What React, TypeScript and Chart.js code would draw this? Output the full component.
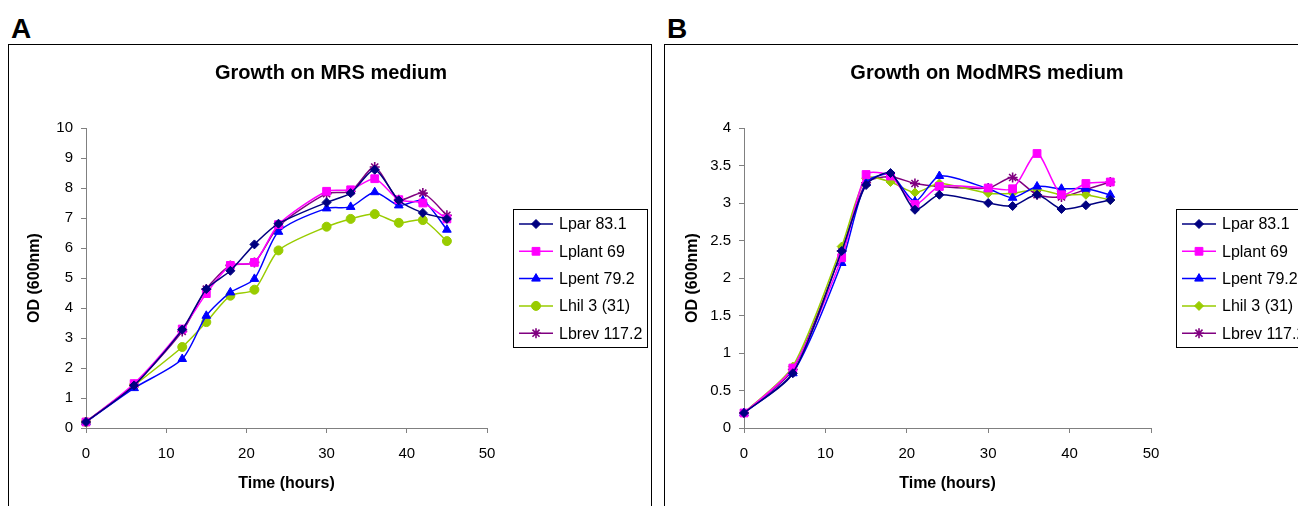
import React, { useEffect, useRef } from 'react';
import { Chart, registerables } from 'chart.js';
import { drawPoint } from 'chart.js/helpers';

Chart.register(...registerables);

const FONT = "'Liberation Sans', Arial, Helvetica, sans-serif";

// ---- data ----
const TIME_HOURS = [0, 6, 12, 15, 18, 21, 24, 30, 33, 36, 39, 42, 45];
const SERIES_LABELS = ['Lpar 83.1', 'Lplant 69', 'Lpent 79.2', 'Lhil 3 (31)', 'Lbrev 117.2'];
const SERIES_COLORS = ['#000080', '#FF00FF', '#0000FF', '#99CC00', '#800080'];

const MRS_LPAR = [0.2, 1.42, 3.28, 4.63, 5.24, 6.12, 6.81, 7.52, 7.83, 8.61, 7.59, 7.17, 6.97];
const MRS_LPLANT = [0.2, 1.48, 3.3, 4.48, 5.42, 5.52, 6.78, 7.89, 7.94, 8.31, 7.61, 7.5, 6.97];
const MRS_LPENT = [0.2, 1.33, 2.3, 3.74, 4.52, 4.97, 6.54, 7.32, 7.37, 7.86, 7.42, 7.58, 6.61];
const MRS_LHIL = [0.2, 1.42, 2.7, 3.53, 4.41, 4.61, 5.92, 6.71, 6.97, 7.13, 6.84, 6.93, 6.23];
const MRS_LBREV = [0.2, 1.44, 3.22, 4.63, 5.42, 5.52, 6.72, 7.81, 7.89, 8.7, 7.61, 7.83, 7.09];

const MOD_LPAR = [0.2, 0.73, 2.36, 3.24, 3.4, 2.91, 3.11, 3.0, 2.96, 3.11, 2.92, 2.97, 3.04];
const MOD_LPLANT = [0.2, 0.8, 2.27, 3.38, 3.36, 2.98, 3.22, 3.2, 3.19, 3.66, 3.11, 3.26, 3.28];
const MOD_LPENT = [0.2, 0.73, 2.2, 3.27, 3.38, 3.02, 3.36, 3.19, 3.07, 3.22, 3.19, 3.19, 3.11];
const MOD_LHIL = [0.2, 0.82, 2.42, 3.33, 3.28, 3.14, 3.26, 3.13, 3.13, 3.18, 3.11, 3.11, 3.04];
const MOD_LBREV = [0.2, 0.78, 2.36, 3.27, 3.35, 3.26, 3.22, 3.2, 3.34, 3.11, 3.08, 3.18, 3.28];

const MRS_MARKERS = ['rectRot', 'rect', 'triangle', 'circle', 'star'];
const MOD_MARKERS = ['rectRot', 'rect', 'triangle', 'rectRot', 'star'];
const MARKER_RADII: Record<string, number> = { rectRot: 4.5, rect: 5.5, triangle: 5, circle: 4.5, star: 5 };

const X_MIN = 0, X_MAX = 50, X_STEP = 10;
const MRS_Y_MAX = 10, MRS_Y_STEP = 1;
const MOD_Y_MAX = 4, MOD_Y_STEP = 0.5;

const TITLE_MRS = 'Growth on MRS medium';
const TITLE_MOD = 'Growth on ModMRS medium';
const X_TITLE = 'Time (hours)';
const Y_TITLE = 'OD (600nm)';

// ---- plugins ----
const panelTitle = {
  id: 'panelTitle',
  afterDraw(chart: any, _a: any, opts: any) {
    const ctx = chart.ctx;
    ctx.save();
    ctx.font = `bold 20px ${FONT}`;
    ctx.fillStyle = '#000';
    ctx.textAlign = 'center';
    ctx.textBaseline = 'middle';
    ctx.fillText(opts.text, opts.x, opts.y);
    ctx.restore();
  },
};

const boxLegend = {
  id: 'boxLegend',
  afterDraw(chart: any, _a: any, opts: any) {
    const ctx = chart.ctx;
    const { x, y, w, h } = opts;
    ctx.save();
    ctx.fillStyle = '#fff';
    ctx.fillRect(x, y, w, h);
    ctx.strokeStyle = '#000';
    ctx.lineWidth = 1;
    ctx.strokeRect(x + 0.5, y + 0.5, w, h);
    chart.data.datasets.forEach((ds: any, i: number) => {
      const cy = y + 15 + i * 27.3;
      ctx.strokeStyle = ds.borderColor;
      ctx.lineWidth = ds.borderWidth;
      ctx.beginPath();
      ctx.moveTo(x + 6, cy);
      ctx.lineTo(x + 40, cy);
      ctx.stroke();
      ctx.fillStyle = ds.pointBackgroundColor;
      ctx.strokeStyle = ds.pointBorderColor;
      ctx.lineWidth = ds.pointBorderWidth;
      drawPoint(ctx, { pointStyle: ds.pointStyle, radius: ds.pointRadius, borderWidth: ds.pointBorderWidth, rotation: 0 } as any, x + 23, cy);
      ctx.fillStyle = '#000';
      ctx.font = `16px ${FONT}`;
      ctx.textAlign = 'left';
      ctx.textBaseline = 'middle';
      ctx.fillText(ds.label, x + 46, cy + 1);
    });
    ctx.restore();
  },
};

type PanelProps = {
  letter: string;
  left: number;
  title: string;
  series: number[][];
  markers: string[];
  yMax: number;
  yStep: number;
  padLeft: number;
  padRight: number;
  legendX: number;
};

const CANVAS_W = 642;
const CANVAS_H = 461;

function Panel(p: PanelProps) {
  const ref = useRef<HTMLCanvasElement | null>(null);
  useEffect(() => {
    if (!ref.current) return;
    const datasets = p.series.map((vals, i) => ({
      label: SERIES_LABELS[i],
      data: vals.map((v, k) => ({ x: TIME_HOURS[k], y: v })),
      borderColor: SERIES_COLORS[i],
      backgroundColor: SERIES_COLORS[i],
      pointBackgroundColor: SERIES_COLORS[i],
      pointBorderColor: SERIES_COLORS[i],
      borderWidth: 1.5,
      pointStyle: p.markers[i],
      pointRadius: MARKER_RADII[p.markers[i]],
      pointBorderWidth: p.markers[i] === 'star' ? 1.6 : 1,
      tension: 0.25,
      clip: false as any,
    }));
    const tickFont = { family: FONT, size: 15 };
    const titleFont = { family: FONT, size: 16, weight: 'bold' as const };
    const chart = new Chart(ref.current, {
      type: 'line',
      data: { datasets },
      plugins: [panelTitle, boxLegend],
      options: {
        animation: false,
        responsive: false,
        devicePixelRatio: 1,
        layout: { padding: { left: p.padLeft, right: p.padRight, top: 83, bottom: 13 } },
        plugins: {
          legend: { display: false },
          tooltip: { enabled: false },
          panelTitle: { text: p.title, x: 322, y: 28.5 },
          boxLegend: { x: p.legendX, y: 164, w: 134, h: 138 },
        } as any,
        scales: {
          x: {
            type: 'linear',
            min: X_MIN,
            max: X_MAX,
            ticks: { stepSize: X_STEP, color: '#000', font: tickFont, padding: 12, callback: (v: any) => `${v}` },
            grid: { drawOnChartArea: false, drawTicks: true, tickLength: 5, color: '#808080' },
            border: { display: true, color: '#808080', width: 1 },
            title: { display: true, text: X_TITLE, color: '#000', font: titleFont, padding: 0 },
            afterFit: (s: any) => { s.height = 65; },
          },
          y: {
            type: 'linear',
            min: 0,
            max: p.yMax,
            ticks: { stepSize: p.yStep, color: '#000', font: tickFont, padding: 8, callback: (v: any) => `${Number(v)}` },
            grid: { drawOnChartArea: false, drawTicks: true, tickLength: 5, color: '#808080' },
            border: { display: true, color: '#808080', width: 1 },
            title: { display: true, text: Y_TITLE, color: '#000', font: titleFont, padding: 0 },
            afterFit: (s: any) => { s.width = 61; },
          },
        },
      } as any,
    });
    return () => chart.destroy();
  }, []);

  return (
    <>
      <div
        style={{
          position: 'absolute',
          left: p.left + 3,
          top: 15,
          fontFamily: FONT,
          fontWeight: 'bold',
          fontSize: 28,
          lineHeight: 1,
          color: '#000',
        }}
      >
        {p.letter}
      </div>
      <div
        style={{
          position: 'absolute',
          left: p.left,
          top: 44,
          width: CANVAS_W,
          height: CANVAS_H + 20,
          border: '1px solid #000',
          background: '#fff',
        }}
      >
        <canvas ref={ref} width={CANVAS_W} height={CANVAS_H} style={{ display: 'block', width: CANVAS_W, height: CANVAS_H }} />
      </div>
    </>
  );
}

export default function App() {
  return (
    <div
      style={{
        position: 'fixed',
        left: 0,
        top: 0,
        width: 1298,
        height: 506,
        overflow: 'hidden',
        background: '#fff',
      }}
    >
      <Panel
        letter="A"
        left={8}
        title={TITLE_MRS}
        series={[MRS_LPAR, MRS_LPLANT, MRS_LPENT, MRS_LHIL, MRS_LBREV]}
        markers={MRS_MARKERS}
        yMax={MRS_Y_MAX}
        yStep={MRS_Y_STEP}
        padLeft={16}
        padRight={164}
        legendX={504}
      />
      <Panel
        letter="B"
        left={664}
        title={TITLE_MOD}
        series={[MOD_LPAR, MOD_LPLANT, MOD_LPENT, MOD_LHIL, MOD_LBREV]}
        markers={MOD_MARKERS}
        yMax={MOD_Y_MAX}
        yStep={MOD_Y_STEP}
        padLeft={18}
        padRight={156}
        legendX={511}
      />
    </div>
  );
}
